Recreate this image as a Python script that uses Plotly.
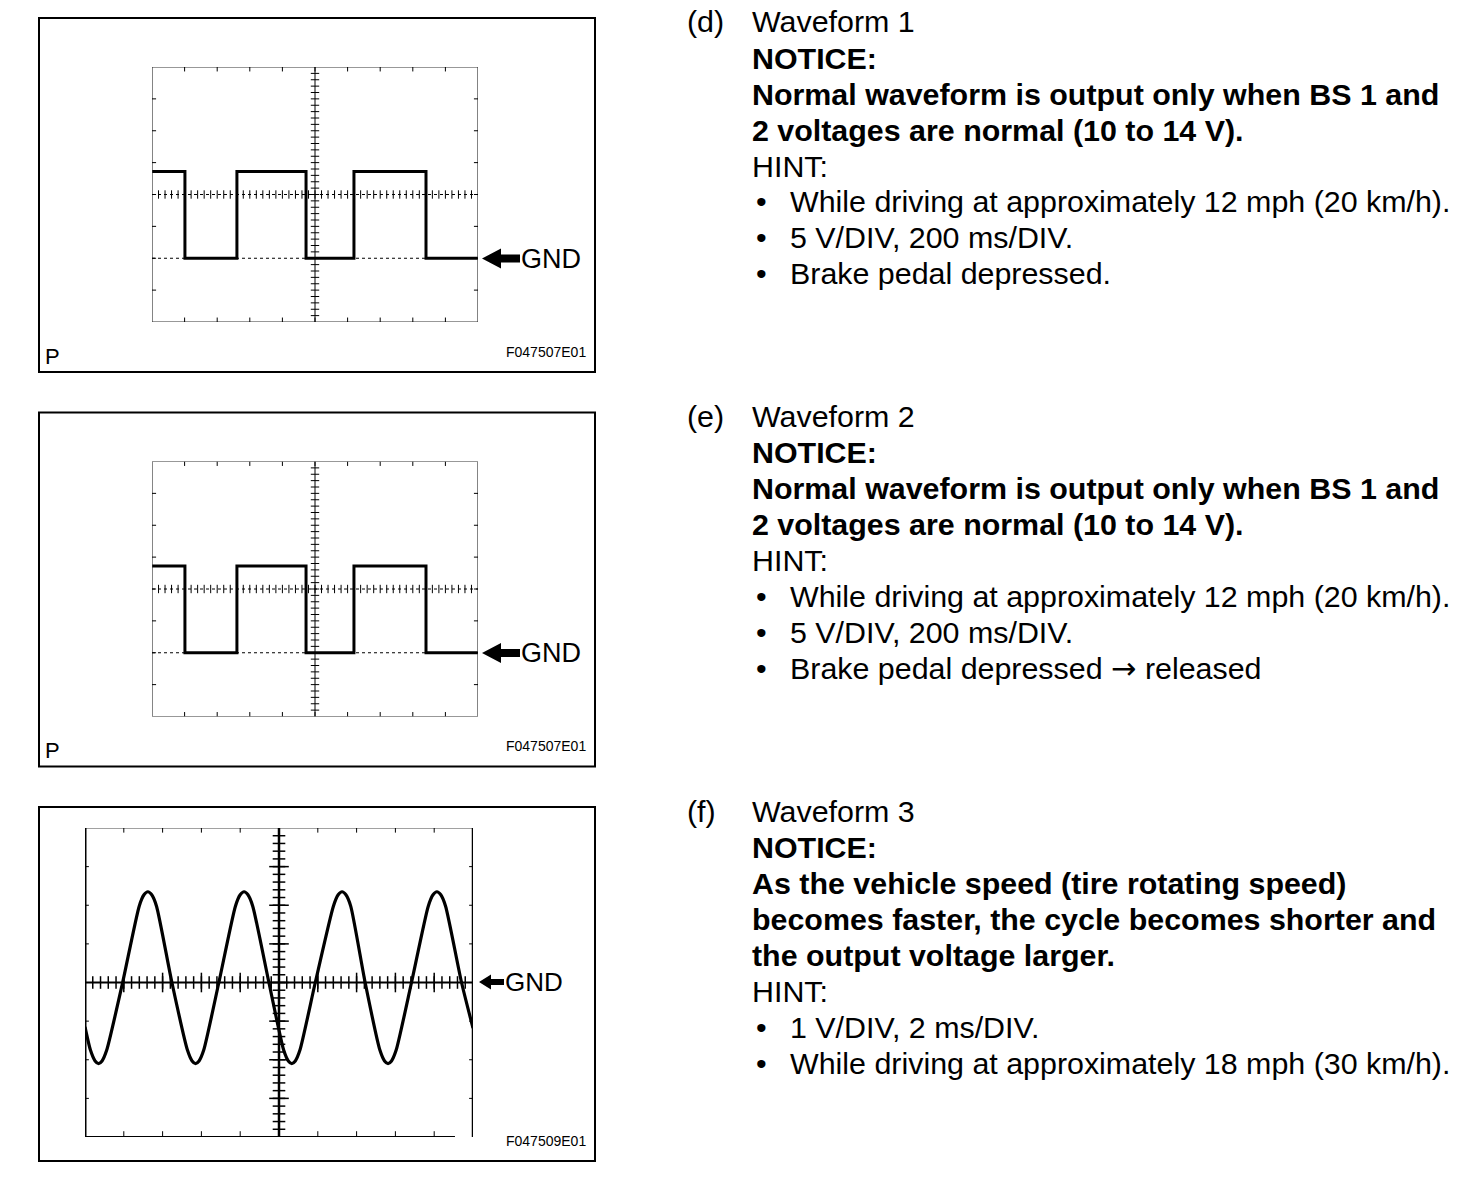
import numpy as np
import plotly.graph_objects as go

# ---------------- data ----------------
# Waveform 1 and 2: 5 V/DIV, 200 ms/DIV  (step levels, 'hv' shape)
wf1_time_ms = [0, 202, 521, 945, 1239, 1681, 2000]
wf1_volts = [13.6, 0, 13.6, 0, 13.6, 0, 0]
wf2_time_ms = [0, 202, 521, 945, 1239, 1681, 2000]
wf2_volts = [13.6, 0, 13.6, 0, 13.6, 0, 0]

# Waveform 3: 1 V/DIV, 2 ms/DIV (troughs, GND crossings, peaks)
wf3_time_ms = [0.00,
               0.28, 0.52, 0.70, 0.88, 1.12, 1.94,
               2.79, 3.04, 3.24, 3.44, 3.69, 4.48,
               5.28, 5.52, 5.70, 5.88, 6.12, 6.90,
               7.75, 8.00, 8.20, 8.40, 8.65, 9.48,
               10.24, 10.48, 10.66, 10.84, 11.08, 11.87,
               12.80, 13.05, 13.25, 13.45, 13.70, 14.44,
               15.20, 15.44, 15.62, 15.80, 16.04, 16.83,
               17.69, 17.94, 18.14, 18.34, 18.59, 19.41,
               20.00]
wf3_volts = [-1.15,
             -1.75, -2.03, -2.10, -2.03, -1.75, 0.0,
             1.97, 2.27, 2.35, 2.27, 1.97, 0.0,
             -1.75, -2.03, -2.10, -2.03, -1.75, 0.0,
             1.97, 2.27, 2.35, 2.27, 1.97, 0.0,
             -1.75, -2.03, -2.10, -2.03, -1.75, 0.0,
             1.97, 2.27, 2.35, 2.27, 1.97, 0.0,
             -1.75, -2.03, -2.10, -2.03, -1.75, 0.0,
             1.97, 2.27, 2.35, 2.27, 1.97, 0.0,
             -1.18]

fig_codes = ["F047507E01", "F047507E01", "F047509E01"]

ARROW = '<span style="font-family:DejaVu Sans">\u2192</span>'
text_d = [("(d)", "Waveform 1", "n"),
          (None, "NOTICE:", "b"),
          (None, "Normal waveform is output only when BS 1 and", "b"),
          (None, "2 voltages are normal (10 to 14 V).", "b"),
          (None, "HINT:", "n"),
          ("•", "While driving at approximately 12 mph (20 km/h).", "n"),
          ("•", "5 V/DIV, 200 ms/DIV.", "n"),
          ("•", "Brake pedal depressed.", "n")]
text_e = [("(e)", "Waveform 2", "n"),
          (None, "NOTICE:", "b"),
          (None, "Normal waveform is output only when BS 1 and", "b"),
          (None, "2 voltages are normal (10 to 14 V).", "b"),
          (None, "HINT:", "n"),
          ("•", "While driving at approximately 12 mph (20 km/h).", "n"),
          ("•", "5 V/DIV, 200 ms/DIV.", "n"),
          ("•", "Brake pedal depressed " + ARROW + " released", "n")]
text_f = [("(f)", "Waveform 3", "n"),
          (None, "NOTICE:", "b"),
          (None, "As the vehicle speed (tire rotating speed)", "b"),
          (None, "becomes faster, the cycle becomes shorter and", "b"),
          (None, "the output voltage larger.", "b"),
          (None, "HINT:", "n"),
          ("•", "1 V/DIV, 2 ms/DIV.", "n"),
          ("•", "While driving at approximately 18 mph (30 km/h).", "n")]

# ---------------- layout helpers ----------------
OFF = 0  # body margin removed by post_script below
W, H = 1472, 1196
FONT = "Liberation Sans, Arial, sans-serif"
TXT = 30.4


def px(X):
    return (X - OFF) / W


def py(Y):
    return 1 - (Y - OFF) / H


panel_dy = [0, 394.5, 789]

fig = go.Figure()
shapes = []
annotations = []


def ann(X, Y, s, size, xanchor="left", bold=False):
    annotations.append(dict(
        x=px(X), y=py(Y), xref="paper", yref="paper", text=("<b>%s</b>" % s) if bold else s,
        showarrow=False, xanchor=xanchor, yanchor="middle", borderpad=0,
        font=dict(family=FONT, size=size, color="black")))


def arrow(tipX, Y, headX, headH, endX, shaftH):
    pts = [(tipX, Y), (headX, Y - headH), (headX, Y - shaftH), (endX, Y - shaftH),
           (endX, Y + shaftH), (headX, Y + shaftH), (headX, Y + headH)]
    path = "M " + " L ".join("%f,%f" % (px(a), py(b)) for a, b in pts) + " Z"
    shapes.append(dict(type="path", path=path, xref="paper", yref="paper",
                       fillcolor="black", line=dict(color="black", width=0)))


def seg(xr, yr, x0, y0, x1, y1, w=1, color="black", dash="solid"):
    shapes.append(dict(type="line", xref=xr, yref=yr, x0=x0, y0=y0, x1=x1, y1=y1,
                       line=dict(color=color, width=w, dash=dash)))


def tick_markers(xa, ya, xs, ys, symbol, size, width=1):
    fig.add_trace(go.Scatter(x=xs, y=ys, xaxis=xa, yaxis=ya, mode="markers",
                             marker=dict(symbol=symbol, size=size,
                                         line=dict(color="black", width=width)),
                             hoverinfo="skip", showlegend=False, cliponaxis=False))


# ---------------- outer boxes, labels ----------------
for i, dy in enumerate(panel_dy):
    shapes.append(dict(type="rect", xref="paper", yref="paper",
                       x0=px(39), x1=px(595), y0=py(18 + dy), y1=py(372 + dy),
                       line=dict(color="black", width=2)))
    ann(587, 352 + dy, fig_codes[i], 14, xanchor="right")
    if i < 2:
        ann(44, 356 + dy, "P", 22)

# ---------------- square-wave panels ----------------
sq_panels = [(wf1_time_ms, wf1_volts), (wf2_time_ms, wf2_volts)]
for i, (t, v) in enumerate(sq_panels):
    dy = panel_dy[i]
    xa, ya = ("x", "y") if i == 0 else ("x2", "y2")
    xk, yk = ("xaxis", "yaxis") if i == 0 else ("xaxis2", "yaxis2")
    fig.update_layout(**{
        xk: dict(domain=[px(152), px(478)], range=[0, 2000], visible=False,
                 anchor=ya, fixedrange=True),
        yk: dict(domain=[py(322 + dy), py(67 + dy)], range=[-10, 30], visible=False,
                 anchor=xa, fixedrange=True)})
    xr, yr = xa, ya
    # frame
    shapes.append(dict(type="rect", xref=xr, yref=yr, x0=0, x1=2000, y0=-10, y1=30,
                       line=dict(color="#333", width=1.2)))
    # center lines
    seg(xr, yr, 1000, -10, 1000, 30, w=1)
    seg(xr, yr, 0, 10, 2000, 10, w=1, dash="dot")
    seg(xr, yr, 0, 0, 2000, 0, w=1, dash="dot")
    # edge ticks at divisions
    for k in range(1, 10):
        xv = k * 200
        seg(xr, yr, xv, 30, xv, 29.3, w=1)
        seg(xr, yr, xv, -10, xv, -9.3, w=1)
    for k in range(1, 8):
        yv = -10 + k * 5
        seg(xr, yr, 0, yv, 25, yv, w=1)
        seg(xr, yr, 2000, yv, 1975, yv, w=1)
    # fine ticks on center lines
    tx = np.arange(40, 2000, 40)
    tick_markers(xa, ya, tx, np.full(tx.shape, 10.0), "line-ns", 6)
    ty = np.arange(-9, 30, 1.0)
    tick_markers(xa, ya, np.full(ty.shape, 1000.0), ty, "line-ew", 6)
    # waveform
    fig.add_trace(go.Scatter(x=t, y=v, xaxis=xa, yaxis=ya, mode="lines",
                             line=dict(color="black", width=3, shape="hv"),
                             hoverinfo="skip", showlegend=False, cliponaxis=False))
    # GND marker
    gy = 258.5 + dy
    arrow(482, gy, 501, 10, 520, 4)
    ann(520, gy, "GND", 27)

# ---------------- sine-like panel ----------------
dy = panel_dy[2]
fig.update_layout(
    xaxis3=dict(domain=[px(85), px(473)], range=[0, 20], visible=False, anchor="y3",
                fixedrange=True),
    yaxis3=dict(domain=[py(1137), py(828)], range=[-4, 4], visible=False, anchor="x3",
                fixedrange=True))
xr, yr = "x3", "y3"
seg(xr, yr, 0, 4, 20, 4, w=1, color="#444")
seg(xr, yr, 0, 4, 0, -4.08, w=3)
seg(xr, yr, 20, 4, 20, -4.0, w=2.5)
seg(xr, yr, 0, -4, 19.07, -4, w=2)
seg(xr, yr, 10, 4, 10, -4, w=2.5)
seg(xr, yr, 0, 0, 20, 0, w=2)
for k in range(1, 10):
    seg(xr, yr, k * 2, 4, k * 2, 3.88, w=1)
    if k * 2 < 19:
        seg(xr, yr, k * 2, -4, k * 2, -3.85, w=1)
for k in range(1, 8):
    yv = -4 + k
    seg(xr, yr, 0, yv, 0.2, yv, w=1)
    seg(xr, yr, 20, yv, 19.8, yv, w=1)
tx = np.arange(0.4, 20, 0.4)
tick_markers("x3", "y3", tx, np.zeros(tx.shape), "line-ns", 9, 1.5)
tx2 = np.arange(2, 20, 2.0)
tick_markers("x3", "y3", tx2, np.zeros(tx2.shape), "line-ns", 14, 1.5)
ty = np.arange(-3.8, 4, 0.2)
tick_markers("x3", "y3", np.full(ty.shape, 10.0), ty, "line-ew", 9, 1.5)
ty2 = np.arange(-3, 4, 1.0)
tick_markers("x3", "y3", np.full(ty2.shape, 10.0), ty2, "line-ew", 14, 1.5)
fig.add_trace(go.Scatter(x=wf3_time_ms, y=wf3_volts, xaxis="x3", yaxis="y3", mode="lines",
                         line=dict(color="black", width=3.2, shape="spline", smoothing=0.6),
                         hoverinfo="skip", showlegend=False, cliponaxis=False))
arrow(479, 982, 491, 7.5, 504, 3)
ann(504, 982, "GND", 26)

# ---------------- right-hand text ----------------
for dy, block in zip(panel_dy, [text_d, text_e, text_f]):
    for j, (lead, body, style) in enumerate(block):
        Y = 21.5 + 36 * j + dy
        if lead == "•":
            ann(761, Y, lead, TXT, xanchor="center")
            ann(789, Y, body, TXT)
        else:
            if lead:
                ann(686, Y, lead, TXT)
            ann(751, Y, body, TXT, bold=(style == "b"))

fig.update_layout(width=W, height=H, margin=dict(l=0, r=0, t=0, b=0),
                  paper_bgcolor="white", plot_bgcolor="rgba(0,0,0,0)",
                  shapes=shapes, annotations=annotations, showlegend=False)
fig.write_html("out.html", config={"displayModeBar": False},
               post_script="document.body.style.margin='0';document.body.style.overflow='hidden';")
